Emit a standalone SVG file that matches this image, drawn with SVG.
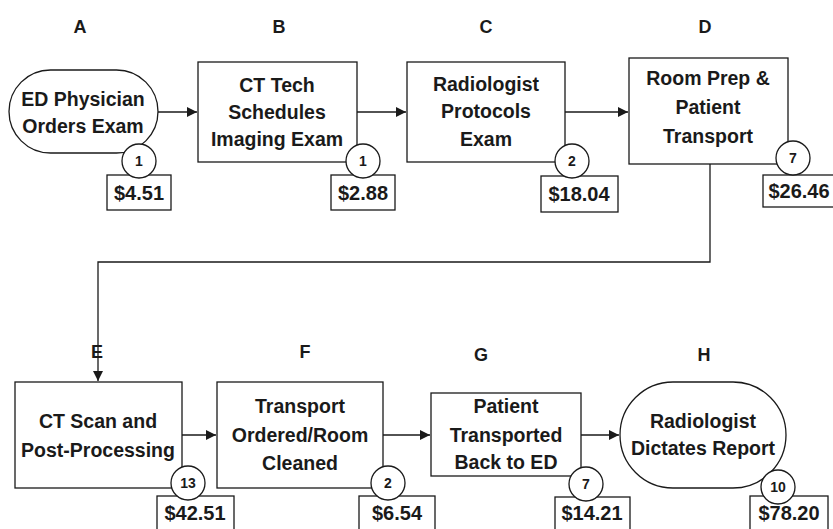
<svg xmlns="http://www.w3.org/2000/svg" width="833" height="529" viewBox="0 0 833 529">
<defs>
<style>
.shape{fill:#fff;stroke:#1a1a1a;stroke-width:1.3}
.t{font-family:"Liberation Sans",Arial,sans-serif;font-weight:bold;font-size:19.5px;fill:#1a1a1a;text-anchor:middle}
.p{font-family:"Liberation Sans",Arial,sans-serif;font-weight:bold;font-size:20px;fill:#1a1a1a;text-anchor:middle}
.n{font-family:"Liberation Sans",Arial,sans-serif;font-weight:bold;font-size:14px;fill:#1a1a1a;text-anchor:middle}
.l{font-family:"Liberation Sans",Arial,sans-serif;font-weight:bold;font-size:18px;fill:#1a1a1a;text-anchor:middle}
.c{fill:none;stroke:#1a1a1a;stroke-width:1.3}
</style>
<marker id="ah" viewBox="0 0 10 10" refX="10" refY="5" markerWidth="10" markerHeight="10" markerUnits="userSpaceOnUse" orient="auto">
<path d="M0,0 L10,5 L0,10 z" fill="#1a1a1a"/>
</marker>
</defs>
<rect width="833" height="529" fill="#fff"/>
<g id="letters">
<text class="l" x="80" y="33">A</text>
<text class="l" x="279" y="33">B</text>
<text class="l" x="486" y="33">C</text>
<text class="l" x="705" y="33">D</text>
<text class="l" x="97" y="358">E</text>
<text class="l" x="305" y="358">F</text>
<text class="l" x="481" y="361">G</text>
<text class="l" x="704" y="361">H</text>
</g>
<g id="connectors">
<path class="c" d="M158,112 H197" marker-end="url(#ah)"/>
<path class="c" d="M357,112 H406" marker-end="url(#ah)"/>
<path class="c" d="M565,112 H628" marker-end="url(#ah)"/>
<path class="c" d="M710,164 V262 H98 V381" marker-end="url(#ah)"/>
<path class="c" d="M182,435 H216" marker-end="url(#ah)"/>
<path class="c" d="M383,435 H430" marker-end="url(#ah)"/>
<path class="c" d="M581,435 H619" marker-end="url(#ah)"/>
</g>
<g id="nodeA">
<rect class="shape" x="9" y="70" width="149" height="83" rx="41.5"/>
<text class="t" x="83" y="106">ED Physician</text>
<text class="t" x="83" y="133">Orders Exam</text>
<rect class="shape" x="107" y="175" width="64" height="35"/>
<text class="p" x="139" y="200">$4.51</text>
<circle class="shape" cx="139" cy="161" r="17"/>
<text class="n" x="139" y="166">1</text>
</g>
<g id="nodeB">
<rect class="shape" x="198" y="62" width="159" height="100"/>
<text class="t" x="277" y="92">CT Tech</text>
<text class="t" x="277" y="119">Schedules</text>
<text class="t" x="277" y="146">Imaging Exam</text>
<rect class="shape" x="331" y="175" width="64" height="35"/>
<text class="p" x="363" y="200">$2.88</text>
<circle class="shape" cx="363" cy="161" r="17"/>
<text class="n" x="363" y="166">1</text>
</g>
<g id="nodeC">
<rect class="shape" x="407" y="62" width="158" height="100"/>
<text class="t" x="486" y="91">Radiologist</text>
<text class="t" x="486" y="118">Protocols</text>
<text class="t" x="486" y="146">Exam</text>
<rect class="shape" x="541" y="176" width="77" height="36"/>
<text class="p" x="579" y="201">$18.04</text>
<circle class="shape" cx="572" cy="161" r="17"/>
<text class="n" x="572" y="166">2</text>
</g>
<g id="nodeD">
<rect class="shape" x="629" y="58" width="159" height="106"/>
<text class="t" x="708" y="85">Room Prep &amp;</text>
<text class="t" x="708" y="114">Patient</text>
<text class="t" x="708" y="143">Transport</text>
<rect class="shape" x="763" y="175" width="72" height="32"/>
<text class="p" x="799" y="198">$26.46</text>
<circle class="shape" cx="793" cy="158" r="17"/>
<text class="n" x="793" y="163">7</text>
</g>
<g id="nodeE">
<rect class="shape" x="15" y="382" width="167" height="106"/>
<text class="t" x="98" y="428">CT Scan and</text>
<text class="t" x="98" y="457">Post-Processing</text>
<rect class="shape" x="157" y="496" width="77" height="36"/>
<text class="p" x="195" y="520">$42.51</text>
<circle class="shape" cx="188" cy="483" r="17"/>
<text class="n" x="188" y="488">13</text>
</g>
<g id="nodeF">
<rect class="shape" x="217" y="382" width="166" height="106"/>
<text class="t" x="300" y="413">Transport</text>
<text class="t" x="300" y="442">Ordered/Room</text>
<text class="t" x="300" y="470">Cleaned</text>
<rect class="shape" x="359" y="496" width="76" height="36"/>
<text class="p" x="397" y="520">$6.54</text>
<circle class="shape" cx="388" cy="483" r="17"/>
<text class="n" x="388" y="488">2</text>
</g>
<g id="nodeG">
<rect class="shape" x="431" y="393" width="150" height="83"/>
<text class="t" x="506" y="413">Patient</text>
<text class="t" x="506" y="442">Transported</text>
<text class="t" x="506" y="469">Back to ED</text>
<rect class="shape" x="555" y="497" width="75" height="36"/>
<text class="p" x="592" y="520">$14.21</text>
<circle class="shape" cx="586" cy="484" r="17"/>
<text class="n" x="586" y="489">7</text>
</g>
<g id="nodeH">
<rect class="shape" x="620" y="382" width="166" height="106" rx="53"/>
<text class="t" x="703" y="428">Radiologist</text>
<text class="t" x="703" y="455">Dictates Report</text>
<rect class="shape" x="750" y="496" width="78" height="36"/>
<text class="p" x="789" y="520">$78.20</text>
<circle class="shape" cx="778" cy="487" r="17"/>
<text class="n" x="778" y="492">10</text>
</g>
</svg>
